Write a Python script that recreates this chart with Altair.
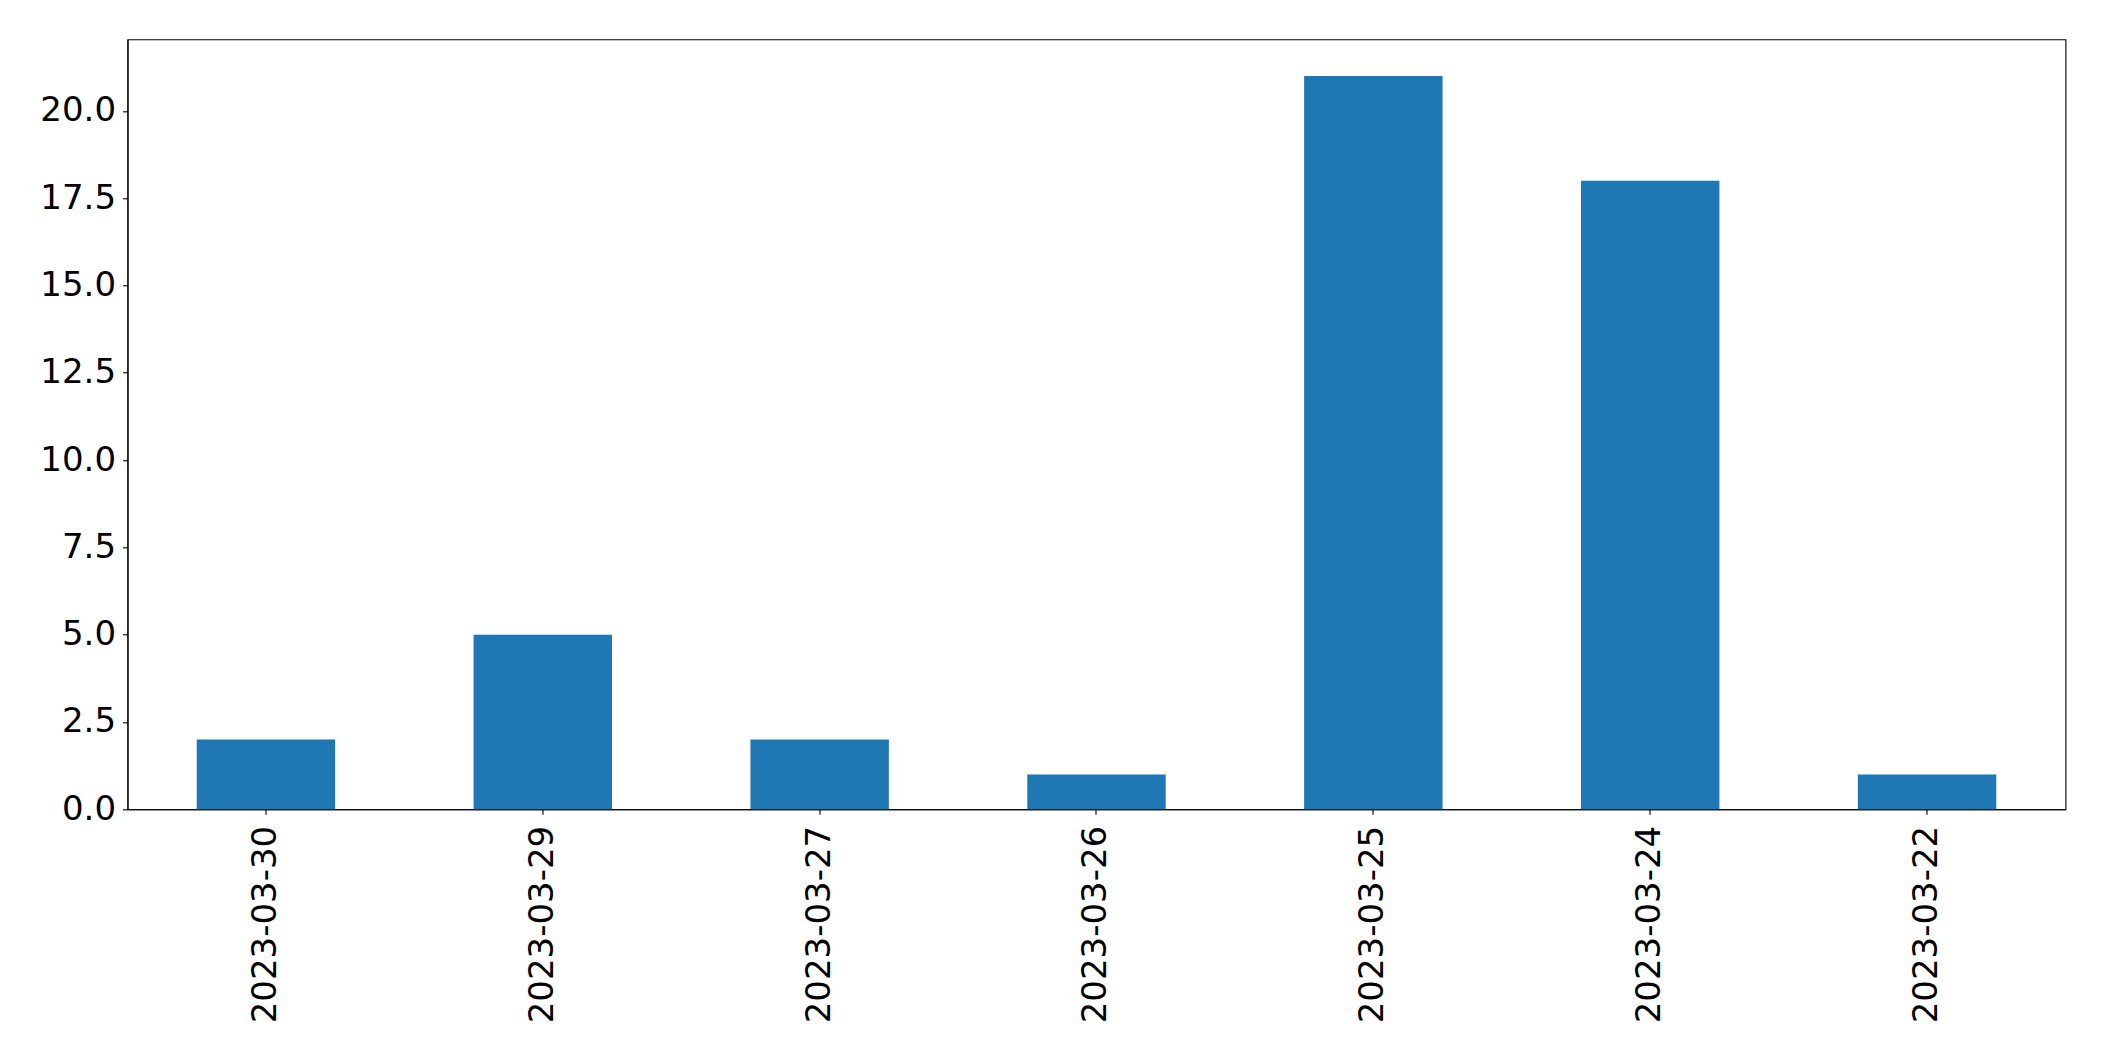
import altair as alt
import pandas as pd

dates = ["2023-03-30", "2023-03-29", "2023-03-27", "2023-03-26", "2023-03-25", "2023-03-24", "2023-03-22"]
counts = [2, 5, 2, 1, 21, 18, 1]
y_ticks = [0, 2.5, 5, 7.5, 10, 12.5, 15, 17.5, 20]

df = pd.DataFrame({"date": dates, "count": counts})

chart = alt.Chart(df).mark_bar(color="#1f77b4").encode(
    x=alt.X(
        "date:N",
        sort=None,
        scale=alt.Scale(paddingInner=0.5, paddingOuter=0.25),
        axis=alt.Axis(
            title=None,
            labelAngle=-90,
            labelAlign="right",
            labelBaseline="middle",
            labelFont="DejaVu Sans",
            labelFontSize=34,
            labelColor="black",
            labelPadding=11,
            labelLimit=0,
            tickSize=5,
            tickColor="black",
            tickWidth=1.1,
            domainColor="black",
            domainWidth=1.1,
            grid=False,
        ),
    ),
    y=alt.Y(
        "count:Q",
        scale=alt.Scale(domain=[0, 22.05], nice=False, zero=True),
        axis=alt.Axis(
            title=None,
            values=y_ticks,
            format=".1f",
            labelFont="DejaVu Sans",
            labelFontSize=34,
            labelColor="black",
            labelPadding=7,
            labelLimit=0,
            tickSize=5,
            tickColor="black",
            tickWidth=1.1,
            domainColor="black",
            domainWidth=1.1,
            grid=False,
        ),
    ),
).properties(
    width=1938,
    height=770,
    autosize=alt.AutoSizeParams(type="none"),
    padding={"left": 119.5, "top": 31.3, "right": 30, "bottom": 240},
).configure(
    background="white",
).configure_view(
    stroke="black",
    strokeWidth=1.1,
)

chart.save("out.html", embed_options={"renderer": "svg", "actions": False})
